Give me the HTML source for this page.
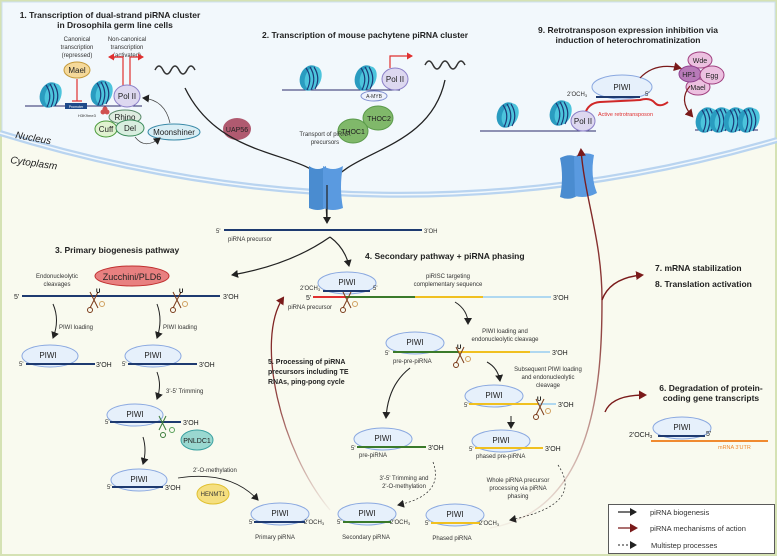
<!DOCTYPE html>
<html><head><meta charset="utf-8"><style>
html,body{margin:0;padding:0;background:#fff}
svg{display:block;font-family:"Liberation Sans",Arial,sans-serif}
.t{font-size:6px;fill:#333}
.b{font-size:8.5px;font-weight:bold;fill:#222}
.p{font-size:8px;fill:#222}
.s{font-size:7px;fill:#222}
</style></head><body>
<svg width="777" height="556" viewBox="0 0 777 556" xmlns="http://www.w3.org/2000/svg">
<defs>
<marker id="ak" markerWidth="8" markerHeight="8" refX="6" refY="4" orient="auto" markerUnits="userSpaceOnUse"><path d="M0,0 L7,4 L0,8 Z" fill="#222"/></marker>
<marker id="ar" markerWidth="9" markerHeight="9" refX="6" refY="4.5" orient="auto" markerUnits="userSpaceOnUse"><path d="M0,0 L8,4.5 L0,9 Z" fill="#7a1a1a"/></marker>
<marker id="ared" markerWidth="7" markerHeight="7" refX="5" refY="3.5" orient="auto" markerUnits="userSpaceOnUse"><path d="M0,0 L6,3.5 L0,7 Z" fill="#e03030"/></marker>
<linearGradient id="fade" x1="0" y1="1" x2="0" y2="0"><stop offset="0" stop-color="#7a1a1a" stop-opacity="0.05"/><stop offset="0.5" stop-color="#7a1a1a" stop-opacity="0.8"/><stop offset="1" stop-color="#7a1a1a"/></linearGradient>
<g id="nuc"><ellipse cx="0" cy="0" rx="10" ry="13" fill="#2a9cc0" transform="rotate(20)"/><ellipse cx="3" cy="-1" rx="8" ry="12" fill="#4cc4dc" transform="rotate(20)"/><path d="M-4,-10 Q3,0 -3,12 M0,-11 Q7,0 1,12 M4,-11 Q11,0 5,11" stroke="#1c3a78" stroke-width="1.2" fill="none"/></g>
<g id="sc"><path d="M-4,-8 L4,8 M4,-8 L-4,8" stroke="#7a3a1a" stroke-width="1"/><circle cx="-4" cy="10" r="2.5" fill="none" stroke="#7a3a1a" stroke-width="1"/><circle cx="8" cy="4" r="2.5" fill="none" stroke="#d0a060" stroke-width="1"/></g>
</defs>
<!-- background -->
<rect x="0" y="0" width="777" height="556" fill="#d5e2b4"/>
<rect x="2" y="2" width="773" height="552" fill="#f9faef"/>
<path d="M2,2 H775 V140 Q390,250 2,133 Z" fill="#f2f8fc" stroke="#cde0f0" stroke-width="1"/>
<path d="M0,133 Q390,253 777,140" fill="none" stroke="#b9d4f0" stroke-width="6"/>
<path d="M0,133 Q390,253 777,140" fill="none" stroke="#f2f8fc" stroke-width="1.5"/>
<text x="15" y="138" font-size="10" font-style="italic" fill="#222" transform="rotate(10 15 138)">Nucleus</text>
<text x="10" y="163" font-size="10" font-style="italic" fill="#222" transform="rotate(8 10 163)">Cytoplasm</text>

<!-- Section 1 -->
<text class="b" x="110" y="18" text-anchor="middle">1.  Transcription of dual-strand piRNA cluster</text>
<text class="b" x="115" y="28" text-anchor="middle">in Drosophila germ line cells</text>
<text class="t" x="77" y="41" text-anchor="middle">Canonical</text>
<text class="t" x="77" y="49" text-anchor="middle">transcription</text>
<text class="t" x="77" y="57" text-anchor="middle">(repressed)</text>
<text class="t" x="127" y="41" text-anchor="middle">Non-canonical</text>
<text class="t" x="127" y="49" text-anchor="middle">transcription</text>
<text class="t" x="127" y="57" text-anchor="middle">(activated)</text>
<line x1="25" y1="106" x2="142" y2="106" stroke="#2a2a6a" stroke-width="1"/>
<use href="#nuc" x="50" y="95"/><use href="#nuc" x="101" y="93"/>
<rect x="65" y="103" width="22" height="6" fill="#1e4a8a"/><text x="76" y="108" font-size="3.5" fill="#fff" text-anchor="middle">Promoter</text>
<ellipse cx="77" cy="70" rx="13" ry="8" fill="#f5d99a" stroke="#c49a3a"/><text class="p" x="77" y="73" text-anchor="middle">Mael</text>
<path d="M77,79 V101 M72,101 H82" stroke="#e03030" stroke-width="1.2"/>
<path d="M123,88 V57 H110 M130,88 V57 H143" stroke="#e03030" stroke-width="1.2" fill="none" marker-end="url(#ared)"/>
<path d="M123,57 H109" stroke="#e03030" stroke-width="1.2" marker-end="url(#ared)"/>
<ellipse cx="127" cy="96" rx="13" ry="11" fill="#ddd8f0" stroke="#8c80c8"/><text class="p" x="127" y="99" text-anchor="middle">Pol II</text>
<path d="M155,70 q4,-8 8,0 t8,0 t8,0 t8,0 t8,0" fill="none" stroke="#333" stroke-width="1.5"/>
<circle cx="103" cy="112" r="2.5" fill="#d05050"/><circle cx="107" cy="112" r="2.5" fill="#d05050"/><circle cx="105" cy="109" r="2.5" fill="#d05050"/>
<text x="78" y="117" font-size="4" fill="#333">H3K9me3</text>
<ellipse cx="125" cy="117" rx="16" ry="7" fill="#dfece0" stroke="#5a8a6a"/><text class="p" x="125" y="120" text-anchor="middle">Rhino</text>
<ellipse cx="106" cy="129" rx="11" ry="8" fill="#e0f2d0" stroke="#4a9a3a"/><text class="p" x="106" y="132" text-anchor="middle">Cuff</text>
<ellipse cx="130" cy="128" rx="14" ry="8" fill="#d8eedf" stroke="#3a8a5a"/><text class="p" x="130" y="131" text-anchor="middle">Del</text>
<ellipse cx="174" cy="132" rx="26" ry="8" fill="#d9eef5" stroke="#3a8aa8"/><text class="p" x="174" y="135" text-anchor="middle">Moonshiner</text>
<path d="M170,123 Q165,100 143,98" fill="none" stroke="#444" stroke-width="0.7" marker-end="url(#ak)"/>
<path d="M135,137 Q145,150 160,138" fill="none" stroke="#444" stroke-width="0.7" marker-end="url(#ak)"/>

<!-- UAP56, THOC -->
<ellipse cx="237" cy="129" rx="14" ry="11" fill="#b05a70"/><text class="s" x="237" y="132" text-anchor="middle" fill="#222">UAP56</text>
<ellipse cx="378" cy="118" rx="15" ry="12" fill="#80b86a" stroke="#5a9a4a"/><text class="s" x="379" y="121" text-anchor="middle">THOC2</text>
<ellipse cx="353" cy="131" rx="15" ry="12" fill="#80b86a" stroke="#5a9a4a"/><text class="s" x="353" y="134" text-anchor="middle">THOC1</text>
<text class="t" x="325" y="136" text-anchor="middle">Transport of piRNA</text>
<text class="t" x="325" y="144" text-anchor="middle">precursors</text>
<path d="M185,88 C220,160 300,150 325,180 L327,222" fill="none" stroke="#222" stroke-width="1.3"/>
<path d="M445,80 C430,150 350,150 330,185" fill="none" stroke="#222" stroke-width="1.3"/>
<!-- pore -->
<path d="M309,166 Q318,172 326,166 V208 Q318,212 309,208 Z" fill="#4a8cd0"/>
<path d="M323,166 Q333,172 343,166 Q339,187 343,208 Q333,212 323,208 Z" fill="#5a9ae0"/>
<path d="M327,185 V223" stroke="#222" stroke-width="1.2" marker-end="url(#ak)"/>

<!-- Section 2 -->
<text class="b" x="262" y="38">2.  Transcription of mouse pachytene piRNA cluster</text>
<line x1="282" y1="90" x2="400" y2="90" stroke="#2a2a6a" stroke-width="1"/>
<use href="#nuc" x="310" y="78"/><use href="#nuc" x="365" y="78"/>
<ellipse cx="374" cy="96" rx="13" ry="5" fill="#eef2fc" stroke="#8090d0"/><text x="374" y="98" font-size="5" text-anchor="middle" fill="#333">A-MYB</text>
<ellipse cx="395" cy="79" rx="13" ry="11" fill="#ddd8f0" stroke="#8c80c8"/><text class="p" x="395" y="82" text-anchor="middle">Pol II</text>
<path d="M390,68 V56 H412" stroke="#e03030" stroke-width="1.2" fill="none" marker-end="url(#ared)"/>
<path d="M425,65 q4,-8 8,0 t8,0 t8,0 t8,0 t8,0" fill="none" stroke="#333" stroke-width="1.5"/>

<!-- Section 9 -->
<text class="b" x="628" y="33" text-anchor="middle">9.  Retrotransposon expression inhibition via</text>
<text class="b" x="628" y="43" text-anchor="middle">induction of heterochromatinization</text>
<line x1="480" y1="131" x2="596" y2="131" stroke="#2a2a6a" stroke-width="1"/>
<use href="#nuc" x="507" y="115"/><use href="#nuc" x="560" y="113"/>
<ellipse cx="622" cy="87" rx="30" ry="12" fill="#e6f0fb" stroke="#8aa8e0"/><text class="p" x="622" y="90" text-anchor="middle">PIWI</text>
<line x1="596" y1="97" x2="640" y2="97" stroke="#1e3a70" stroke-width="2"/>
<text class="t" x="567" y="96">2'OCH<tspan font-size="4" dy="1">3</tspan></text><text class="t" x="645" y="96">5'</text>
<path d="M585,114 Q588,103 600,102 L640,100 Q650,97 655,103 Q660,108 668,102" fill="none" stroke="#d02828" stroke-width="2"/>
<text x="598" y="116" font-size="5.5" fill="#e03030">Active retrotransposon</text>
<ellipse cx="583" cy="121" rx="12" ry="10" fill="#ddd8f0" stroke="#8c80c8"/><text class="p" x="583" y="124" text-anchor="middle">Pol II</text>
<ellipse cx="700" cy="60" rx="12" ry="8" fill="#ecc0e0" stroke="#a04080"/><text class="s" x="700" y="63" text-anchor="middle">Wde</text>
<ellipse cx="698" cy="87" rx="12" ry="8" fill="#ecc0e0" stroke="#a04080"/><text class="s" x="698" y="90" text-anchor="middle">Mael</text>
<ellipse cx="690" cy="74" rx="11" ry="8" fill="#b87ab8" stroke="#904090"/><text class="s" x="689" y="77" text-anchor="middle">HP1</text>
<ellipse cx="712" cy="75" rx="12" ry="9" fill="#ecc0e0" stroke="#a04080"/><text class="s" x="712" y="78" text-anchor="middle">Egg</text>
<path d="M640,78 Q655,62 680,68" fill="none" stroke="#7a1a1a" stroke-width="1.2" marker-end="url(#ar)"/>
<path d="M690,86 Q678,100 692,116" fill="none" stroke="#7a1a1a" stroke-width="1.2" marker-end="url(#ar)"/>
<line x1="695" y1="130" x2="758" y2="130" stroke="#2a2a6a" stroke-width="1"/>
<use href="#nuc" x="706" y="120"/><use href="#nuc" x="720" y="120"/><use href="#nuc" x="734" y="120"/><use href="#nuc" x="748" y="120"/>
<!-- right pore -->
<path d="M560,158 Q569,153 577,157 V196 Q569,201 560,197 Q564,177 560,158 Z" fill="#4a8cd0"/>
<path d="M574,157 Q584,151 594,155 Q590,176 597,193 Q586,199 575,196 Z" fill="#5a9ae0"/>

<!-- precursor -->
<text class="t" x="216" y="233">5'</text>
<line x1="224" y1="230" x2="422" y2="230" stroke="#1e3a70" stroke-width="2"/>
<text class="t" x="424" y="233">3'OH</text>
<text class="t" x="228" y="241">piRNA precursor</text>
<path d="M330,237 Q290,265 232,275" fill="none" stroke="#222" stroke-width="1.2" marker-end="url(#ak)"/>
<path d="M330,237 Q345,248 349,266" fill="none" stroke="#222" stroke-width="1.2" marker-end="url(#ak)"/>

<!-- Section 3 -->
<text class="b" x="55" y="253">3.  Primary biogenesis pathway</text>
<text class="t" x="57" y="278" text-anchor="middle">Endonucleolytic</text>
<text class="t" x="57" y="286" text-anchor="middle">cleavages</text>
<ellipse cx="132" cy="276" rx="37" ry="10" fill="#e88080" stroke="#c03030"/><text x="132" y="280" font-size="9" text-anchor="middle" fill="#222">Zucchini/PLD6</text>
<text class="s" x="14" y="299">5'</text>
<line x1="22" y1="296" x2="220" y2="296" stroke="#1e3a70" stroke-width="2"/>
<text class="s" x="223" y="299">3'OH</text>
<use href="#sc" x="94" y="300"/><text x="96" y="293" font-size="6" font-weight="bold">U</text>
<use href="#sc" x="177" y="300"/><text x="179" y="293" font-size="6" font-weight="bold">U</text>
<path d="M53,304 Q60,320 53,338" fill="none" stroke="#222" stroke-width="1" marker-end="url(#ak)"/>
<text class="t" x="59" y="329">PIWI loading</text>
<path d="M157,304 Q163,320 157,338" fill="none" stroke="#222" stroke-width="1" marker-end="url(#ak)"/>
<text class="t" x="163" y="329">PIWI loading</text>
<ellipse cx="50" cy="356" rx="28" ry="11" fill="#e6f0fb" stroke="#8aa8e0"/><text class="p" x="48" y="358" text-anchor="middle">PIWI</text>
<line x1="26" y1="364" x2="95" y2="364" stroke="#1e3a70" stroke-width="2"/><text class="t" x="19" y="366">5'</text><text class="s" x="96" y="367">3'OH</text>
<ellipse cx="153" cy="356" rx="28" ry="11" fill="#e6f0fb" stroke="#8aa8e0"/><text class="p" x="153" y="358" text-anchor="middle">PIWI</text>
<line x1="128" y1="364" x2="197" y2="364" stroke="#1e3a70" stroke-width="2"/><text class="t" x="122" y="366">5'</text><text class="s" x="199" y="367">3'OH</text>
<path d="M157,372 Q162,385 157,399" fill="none" stroke="#222" stroke-width="1" marker-end="url(#ak)"/>
<text class="t" x="166" y="393">3'-5' Trimming</text>
<ellipse cx="135" cy="415" rx="28" ry="11" fill="#e6f0fb" stroke="#8aa8e0"/><text class="p" x="135" y="417" text-anchor="middle">PIWI</text>
<line x1="110" y1="422" x2="181" y2="422" stroke="#1e3a70" stroke-width="2"/><text class="t" x="105" y="424">5'</text><text class="s" x="183" y="425">3'OH</text>
<path d="M159,416 L166,430 M166,416 L159,430" stroke="#3a7a3a" stroke-width="1"/><circle cx="163" cy="435" r="2.5" fill="none" stroke="#3a7a3a"/><circle cx="172" cy="430" r="2.5" fill="none" stroke="#5aa05a"/>
<ellipse cx="197" cy="440" rx="16" ry="10" fill="#9ad8d0" stroke="#3aa0a0"/><text class="s" x="197" y="443" text-anchor="middle">PNLDC1</text>
<path d="M143,437 Q147,450 143,464" fill="none" stroke="#222" stroke-width="1" marker-end="url(#ak)"/>
<ellipse cx="139" cy="480" rx="28" ry="11" fill="#e6f0fb" stroke="#8aa8e0"/><text class="p" x="139" y="482" text-anchor="middle">PIWI</text>
<line x1="112" y1="487" x2="163" y2="487" stroke="#1e3a70" stroke-width="2"/><text class="t" x="107" y="489">5'</text><text class="s" x="165" y="490">3'OH</text>
<text class="t" x="193" y="472">2'-O-methylation</text>
<ellipse cx="213" cy="494" rx="16" ry="10" fill="#f5df80" stroke="#e0c030"/><text class="t" x="213" y="496" text-anchor="middle">HENMT1</text>
<path d="M178,478 Q230,470 258,500" fill="none" stroke="#222" stroke-width="0.8" marker-end="url(#ak)"/>
<ellipse cx="280" cy="514" rx="29" ry="11" fill="#e6f0fb" stroke="#8aa8e0"/><text class="p" x="280" y="516" text-anchor="middle">PIWI</text>
<line x1="254" y1="522" x2="305" y2="522" stroke="#1e3a70" stroke-width="2"/><text class="t" x="249" y="524">5'</text><text class="t" x="304" y="524">2'OCH<tspan font-size="4" dy="1">3</tspan></text>
<text class="t" x="275" y="539" text-anchor="middle">Primary piRNA</text>

<!-- Section 5 curve -->
<path d="M330,510 C280,450 255,340 283,298" fill="none" stroke="url(#fade)" stroke-width="1.3" marker-end="url(#ar)"/>
<text class="s" x="268" y="364" font-weight="bold">5. Processing  of piRNA</text>
<text class="s" x="268" y="374" font-weight="bold">precursors including TE</text>
<text class="s" x="268" y="384" font-weight="bold">RNAs, ping-pong cycle</text>

<!-- Section 4 -->
<text class="b" x="365" y="259">4.  Secondary pathway + piRNA phasing</text>
<text class="t" x="448" y="278" text-anchor="middle">piRISC targeting</text>
<text class="t" x="448" y="286" text-anchor="middle">complementary sequence</text>
<ellipse cx="347" cy="283" rx="29" ry="11" fill="#e6f0fb" stroke="#8aa8e0"/><text class="p" x="347" y="285" text-anchor="middle">PIWI</text>
<line x1="323" y1="291" x2="370" y2="291" stroke="#1e3a70" stroke-width="2"/>
<text class="t" x="300" y="290">2'OCH<tspan font-size="4" dy="1">3</tspan></text><text class="t" x="373" y="290">5'</text>
<text class="s" x="306" y="300">5'</text>
<line x1="313" y1="297" x2="346" y2="297" stroke="#e03030" stroke-width="2"/>
<line x1="346" y1="297" x2="415" y2="297" stroke="#3a7a2a" stroke-width="2"/>
<line x1="415" y1="297" x2="483" y2="297" stroke="#f0c020" stroke-width="2"/>
<line x1="483" y1="297" x2="551" y2="297" stroke="#b0d8f0" stroke-width="2"/>
<text class="s" x="553" y="300">3'OH</text>
<text class="t" x="288" y="309">piRNA precursor</text>
<use href="#sc" x="347" y="300"/>
<path d="M455,302 Q468,310 468,324" fill="none" stroke="#222" stroke-width="1" marker-end="url(#ak)"/>
<text class="t" x="505" y="333" text-anchor="middle">PIWI loading and</text>
<text class="t" x="505" y="341" text-anchor="middle">endonucleolytic cleavage</text>
<ellipse cx="415" cy="343" rx="29" ry="11" fill="#e6f0fb" stroke="#8aa8e0"/><text class="p" x="415" y="345" text-anchor="middle">PIWI</text>
<text class="t" x="385" y="355">5'</text>
<line x1="393" y1="352" x2="458" y2="352" stroke="#3a7a2a" stroke-width="2"/>
<line x1="458" y1="352" x2="530" y2="352" stroke="#f0c020" stroke-width="2"/>
<line x1="530" y1="352" x2="550" y2="352" stroke="#b0d8f0" stroke-width="2"/>
<text class="s" x="552" y="355">3'OH</text>
<text class="t" x="393" y="363">pre-pre-piRNA</text>
<use href="#sc" x="460" y="355"/><text x="457" y="349" font-size="6" font-weight="bold">U</text>
<path d="M487,362 Q498,368 500,381" fill="none" stroke="#222" stroke-width="1" marker-end="url(#ak)"/>
<text class="t" x="548" y="371" text-anchor="middle">Subsequent PIWI loading</text>
<text class="t" x="548" y="379" text-anchor="middle">and endonucleolytic</text>
<text class="t" x="548" y="387" text-anchor="middle">cleavage</text>
<ellipse cx="494" cy="396" rx="29" ry="11" fill="#e6f0fb" stroke="#8aa8e0"/><text class="p" x="494" y="398" text-anchor="middle">PIWI</text>
<text class="t" x="464" y="407">5'</text>
<line x1="469" y1="404" x2="538" y2="404" stroke="#f0c020" stroke-width="2"/>
<line x1="538" y1="404" x2="556" y2="404" stroke="#b0d8f0" stroke-width="2"/>
<text class="s" x="558" y="407">3'OH</text>
<use href="#sc" x="540" y="407"/><text x="537" y="401" font-size="6" font-weight="bold">U</text>
<path d="M511,416 V428" stroke="#222" stroke-width="1" marker-end="url(#ak)"/>
<ellipse cx="501" cy="441" rx="29" ry="11" fill="#e6f0fb" stroke="#8aa8e0"/><text class="p" x="501" y="443" text-anchor="middle">PIWI</text>
<text class="t" x="469" y="451">5'</text>
<line x1="475" y1="448" x2="543" y2="448" stroke="#f0c020" stroke-width="2"/>
<text class="s" x="545" y="451">3'OH</text>
<text class="t" x="476" y="458">phased pre-piRNA</text>
<path d="M410,368 Q388,385 386,418" fill="none" stroke="#222" stroke-width="1.1" marker-end="url(#ak)"/>
<ellipse cx="383" cy="439" rx="29" ry="11" fill="#e6f0fb" stroke="#8aa8e0"/><text class="p" x="383" y="441" text-anchor="middle">PIWI</text>
<text class="t" x="351" y="450">5'</text>
<line x1="357" y1="447" x2="426" y2="447" stroke="#3a7a2a" stroke-width="2"/>
<text class="s" x="428" y="450">3'OH</text>
<text class="t" x="359" y="457">pre-piRNA</text>
<text class="t" x="404" y="480" text-anchor="middle">3'-5' Trimming and</text>
<text class="t" x="404" y="488" text-anchor="middle">2'-O-methylation</text>
<path d="M433,462 Q445,495 398,505" fill="none" stroke="#222" stroke-width="0.7" stroke-dasharray="2,2" marker-end="url(#ak)"/>
<text class="t" x="518" y="482" text-anchor="middle">Whole piRNA precursor</text>
<text class="t" x="518" y="490" text-anchor="middle">processing via piRNA</text>
<text class="t" x="518" y="498" text-anchor="middle">phasing</text>
<path d="M558,465 Q585,505 510,520" fill="none" stroke="#222" stroke-width="0.7" stroke-dasharray="2,2" marker-end="url(#ak)"/>
<ellipse cx="367" cy="514" rx="29" ry="11" fill="#e6f0fb" stroke="#8aa8e0"/><text class="p" x="367" y="516" text-anchor="middle">PIWI</text>
<line x1="343" y1="522" x2="391" y2="522" stroke="#3a7a2a" stroke-width="2"/><text class="t" x="337" y="524">5'</text><text class="t" x="390" y="524">2'OCH<tspan font-size="4" dy="1">3</tspan></text>
<text class="t" x="366" y="539" text-anchor="middle">Secondary piRNA</text>
<ellipse cx="455" cy="515" rx="29" ry="11" fill="#e6f0fb" stroke="#8aa8e0"/><text class="p" x="455" y="517" text-anchor="middle">PIWI</text>
<line x1="431" y1="523" x2="480" y2="523" stroke="#f0c020" stroke-width="2"/><text class="t" x="425" y="525">5'</text><text class="t" x="479" y="525">2'OCH<tspan font-size="4" dy="1">3</tspan></text>
<text class="t" x="452" y="540" text-anchor="middle">Phased piRNA</text>

<!-- Red mechanism curve -->
<path d="M490,528 C595,510 602,380 602,300 C602,240 585,200 581,150" fill="none" stroke="url(#fade)" stroke-width="1.4" marker-end="url(#ar)"/>
<path d="M602,300 Q610,278 642,275" fill="none" stroke="#7a1a1a" stroke-width="1.4" marker-end="url(#ar)"/>
<path d="M605,412 Q612,395 645,395" fill="none" stroke="#7a1a1a" stroke-width="1.4" marker-end="url(#ar)"/>
<text class="b" x="655" y="271">7.  mRNA stabilization</text>
<text class="b" x="655" y="287">8.  Translation activation</text>
<text class="b" x="711" y="391" text-anchor="middle">6.  Degradation of protein-</text>
<text class="b" x="711" y="401" text-anchor="middle">coding gene transcripts</text>
<ellipse cx="682" cy="428" rx="29" ry="11" fill="#e6f0fb" stroke="#8aa8e0"/><text class="p" x="682" y="430" text-anchor="middle">PIWI</text>
<line x1="658" y1="436" x2="705" y2="436" stroke="#1e3a70" stroke-width="2"/>
<text class="s" x="629" y="437">2'OCH<tspan font-size="4.5" dy="1">3</tspan></text><text class="s" x="706" y="436">5'</text>
<line x1="651" y1="441" x2="768" y2="441" stroke="#f08a30" stroke-width="2"/>
<text x="718" y="449" font-size="5.5" fill="#f08a30">mRNA 3'UTR</text>

<!-- Legend -->
<rect x="608.5" y="504.5" width="166" height="49" fill="#fff" stroke="#333" stroke-width="0.8"/>
<line x1="618" y1="512" x2="636" y2="512" stroke="#222" stroke-width="1.3" marker-end="url(#ak)"/>
<text x="650" y="515" font-size="7.5" fill="#333">piRNA biogenesis</text>
<line x1="618" y1="528" x2="636" y2="528" stroke="#7a1a1a" stroke-width="1.3" marker-end="url(#ar)"/>
<text x="650" y="531" font-size="7.5" fill="#333">piRNA mechanisms of action</text>
<line x1="618" y1="545" x2="636" y2="545" stroke="#222" stroke-width="0.9" stroke-dasharray="2,2" marker-end="url(#ak)"/>
<text x="651" y="548" font-size="7.5" fill="#333">Multistep processes</text>
</svg>
</body></html>
